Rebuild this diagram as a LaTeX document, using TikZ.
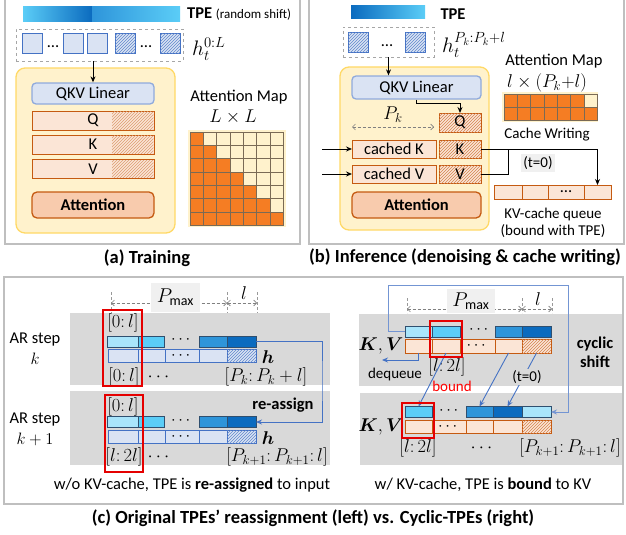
\documentclass[tikz,border=0pt]{standalone}
\usepackage{fix-cm}
\usepackage{fontspec}
\setmainfont{Carlito}
\usepackage{amsmath}
\usetikzlibrary{arrows.meta,positioning,patterns,calc}

\definecolor{frameGray}{HTML}{BFBFBF}
\definecolor{tokFill}{HTML}{DAE3F3}
\definecolor{tokBorder}{HTML}{4472C4}
\definecolor{qkvBorder}{HTML}{8FAADC}
\definecolor{kvFill}{HTML}{FBE5D6}
\definecolor{kvBorder}{HTML}{C55A11}
\definecolor{attnFill}{HTML}{F8CBAD}
\definecolor{blockFill}{HTML}{FFF2CC}
\definecolor{blockBorder}{HTML}{FFD966}
\definecolor{mapOrange}{HTML}{F57D23}
\definecolor{mapGrid}{HTML}{7A6A55}
\definecolor{bandGray}{HTML}{D9D9D9}
\definecolor{tpeA}{HTML}{A9E5FB}
\definecolor{tpeB}{HTML}{5BCDF7}
\definecolor{tpeC}{HTML}{2E95DA}
\definecolor{tpeD}{HTML}{0B6BBF}
\definecolor{tpeBorder}{HTML}{2F4F6F}

\begin{document}
\begin{tikzpicture}[
  x=1pt, y=-1pt,
  font=\fontsize{16.5}{19}\selectfont,
  >={Stealth[length=6pt,width=5pt]},
  panel/.style={draw=frameGray, line width=1.3pt},
  caption/.style={font=\fontsize{18.5}{21}\selectfont\bfseries},
  note/.style={font=\fontsize{15}{17}\selectfont},
  mathlabel/.style={font=\fontsize{18.5}{21}\selectfont, inner sep=1pt},
  biglabel/.style={font=\fontsize{21}{23}\selectfont, inner sep=0pt},
  dots/.style={inner sep=0pt},
  tok/.style={draw=tokBorder, fill=tokFill, line width=1pt, minimum width=20, minimum height=20, inner sep=0pt},
  tokhatch/.style={tok, postaction={pattern=north east lines, pattern color=tokBorder!85}},
  dashbox/.style={draw=gray!70, dashed, line width=0.8pt, inner sep=0pt},
  block/.style={draw=blockBorder, fill=blockFill, rounded corners=9pt, line width=1.3pt, inner sep=0pt},
  qkvbox/.style={draw=qkvBorder, fill=tokFill, rounded corners=4pt, line width=1.3pt, inner sep=0pt},
  kvcell/.style={draw=kvBorder, fill=kvFill, line width=1pt, inner sep=0pt, outer sep=0pt},
  kvhatch/.style={kvcell, postaction={pattern=north east lines, pattern color=kvBorder!75}},
  attnbox/.style={draw=kvBorder, fill=attnFill, rounded corners=5pt, line width=1.3pt, inner sep=0pt, font=\fontsize{16.5}{19}\selectfont\bfseries},
  mapcell/.style={draw=mapGrid, line width=0.5pt},
  dim/.style={draw=gray, densely dashed, line width=0.6pt, {Straight Barb[length=3pt]}-{Straight Barb[length=3pt]}},
  tick/.style={draw=gray!80, densely dashed, line width=0.5pt},
  band/.style={fill=bandGray, inner sep=0pt},
  labelbox/.style={fill=gray!12, inner sep=0pt, font=\fontsize{20}{22}\selectfont},
  tpecell/.style={draw=tpeBorder, line width=0.9pt, minimum height=11, inner sep=0pt, outer sep=0pt},
  hcell/.style={draw=tokBorder, fill=tokFill, line width=0.9pt, minimum height=13, inner sep=0pt, outer sep=0pt},
  redbox/.style={draw=red!90!black, line width=1.2pt, inner sep=0pt},
  link/.style={draw=tokBorder, line width=0.9pt},
]
\useasboundingbox (0,0) rectangle (626,535);

% ========== (a) Training ==========
\draw[panel] (5,-5) rectangle (300,244);
\node[caption] (cap_a) at (147,258) {(a) Training};

% TPE with random shift
\shade[left color=tpeB, right color=tpeD] (23,7) rectangle (92,22);
\shade[left color=tpeC, right color=tpeB] (92,7) rectangle (180,22);
\node[anchor=west, inner sep=0pt] (tpe_a) at (187,14) {\textbf{TPE} {\fontsize{13}{15}\selectfont (random shift)}};

% input tokens
\node[dashbox, minimum width=167, minimum height=32] (in_a) at (99.5,45) {};
\node[tok] (a1) at (32,44) {};
\node[dots] (adots1) at (53,47) {…};
\node[tok] (a2) at (73.5,44) {};
\node[tok] (a3) at (97.5,44) {};
\node[tokhatch] (a4) at (125,44) {};
\node[dots] (adots2) at (146,47) {…};
\node[tokhatch] (a5) at (170,44) {};
\node[biglabel, anchor=west] (h_a) at (192,49) {$h_t^{0:L}$};

% attention block
\node[block, minimum width=159, minimum height=165] (blk_a) at (95.5,150.5) {};
\node[qkvbox, minimum width=122, minimum height=21] (qkv_a) at (93,93.5) {QKV Linear};
\draw[->, line width=1pt] (in_a.south -| qkv_a.north) -- (qkv_a.north);
\foreach \nm/\tx/\y in {q_a/Q/120.5, k_a/K/144.5, v_a/V/169}
  {
  \node[kvcell, minimum width=122, minimum height=19] (\nm) at (93,\y) {\tx};
  \path[pattern=north east lines, pattern color=kvBorder!60] ([xshift=-42pt,yshift=-0.6pt]\nm.north east) rectangle ([xshift=-0.6pt,yshift=0.6pt]\nm.south east);
  }
\node[attnbox, minimum width=122, minimum height=26] (attn_a) at (93,205) {Attention};

% attention map L x L
\node (mapt_a) at (239,97) {Attention Map};
\node[mathlabel] (mapd_a) at (233,117) {$L\times L$};
\node[fill=blockFill, minimum width=98, minimum height=97, inner sep=0pt] (map_a) at (237,178.5) {};
\foreach \i in {0,...,6}
  \foreach \j in {0,...,6}
  {
  \ifnum\i>\j \def\cc{blockFill}\else\def\cc{mapOrange}\fi
  \path[mapcell, fill=\cc] ({190+13.3*\i},{132+13.3*\j}) rectangle ++(13.3,13.3);
  }

% ========== (b) Inference ==========
\draw[panel] (309,-5) rectangle (624,244);
\node[caption] (cap_b) at (465,257) {(b) Inference (denoising \& cache writing)};

% TPE
\shade[left color=tpeD, right color=tpeB] (351,6) rectangle (425,19);
\node[font=\fontsize{16.5}{19}\selectfont\bfseries] (tpe_b) at (453,14) {TPE};

% input tokens
\node[dashbox, minimum width=91, minimum height=30] (in_b) at (388.5,42) {};
\node[tokhatch] (b1) at (358,43) {};
\node[dots] (bdots) at (387,46) {…};
\node[tokhatch] (b2) at (415.5,43) {};
\node[biglabel, anchor=west] (h_b) at (442,45) {$h_t^{P_k:P_k+l}$};

% attention block with cache
\node[block, minimum width=149, minimum height=163] (blk_b) at (414.5,148.5) {};
\node[qkvbox, minimum width=129, minimum height=23] (qkv_b) at (416.5,87.5) {QKV Linear};
\draw[->, line width=1pt] (in_b.south) -- (in_b.south |- qkv_b.north);
\node[kvhatch, minimum width=42, minimum height=19] (q_b) at (460,122.5) {Q};
\draw[->, line width=1pt] (qkv_b.south) -- ++(0,4) -| (q_b.north);
\coordinate (pkl_b) at (352,127);
\coordinate (pkr_b) at (434,127);
\draw[dim] (pkl_b) -- (pkr_b);
\node[mathlabel] (pk_b) at (393,115) {$P_k$};
\node[kvcell, minimum width=84, minimum height=18] (ck_b) at (394,149) {cached K};
\node[kvhatch, minimum width=42, minimum height=18] (k_b) at (460,149) {K};
\node[kvcell, minimum width=84, minimum height=18] (cv_b) at (394,174) {cached V};
\node[kvhatch, minimum width=42, minimum height=18] (v_b) at (460,174) {V};
\node[attnbox, minimum width=129, minimum height=26] (attn_b) at (416.5,205) {Attention};
\coordinate (kin_b) at (322,149);
\coordinate (vin_b) at (322,174);
\draw[->, line width=1pt] (kin_b) -- (ck_b.west);
\draw[->, line width=1pt] (vin_b) -- (cv_b.west);

% attention map l x (Pk+l)
\node[inner sep=1pt] (mapt_b) at (554,61) {Attention Map};
\node[mathlabel, inner sep=0pt] (mapd_b) at (547,83) {$l\times(P_k{+}l)$};
\node[fill=blockFill, minimum width=96, minimum height=30, inner sep=0pt] (map_b) at (550,107) {};
\foreach \i in {0,...,6}
  \foreach \j in {0,1}
  {
  \ifnum\numexpr\i+\j=6 \def\cc{blockFill}\else\def\cc{mapOrange}\fi
  \ifnum\j=1 \def\cc{mapOrange}\fi
  \path[mapcell, fill=\cc] ({504+13.3*\i},{94+13*\j}) rectangle ++(13.3,13);
  }
\node[note] (cw_b) at (547,135) {Cache Writing};

% KV-cache queue
\foreach \xa/\xb/\nm/\tx in {494/522/qc1_b/{}, 522/548/qc2_b/{}, 548/584/qc3_b/{…}, 584/611/qc4_b/{}}
  \node[kvcell, minimum width={\xb-\xa}, minimum height=14] (\nm) at ({(\xa+\xb)/2},192) {\tx};
\coordinate (kvjoin_b) at (508,149);
\draw[line width=1pt] (v_b.east) -| (kvjoin_b);
\draw[->, line width=1pt] (k_b.east) -| (qc4_b.north);
\node[note, fill=gray!12, inner sep=2pt] (t0_b) at (538,163) {(t=0)};
\node[note, align=center] (queue_b) at (553,223) {KV-cache queue\\(bound with TPE)};

% ========== (c) TPE reassignment vs. Cyclic-TPEs ==========
\draw[panel] (4,277) rectangle (623,504);
\node[caption] (cap_c) at (313,518) {(c) Original TPEs’ reassignment (left) vs. Cyclic-TPEs (right)};

% ---- left: w/o KV-cache ----
\node[band, minimum width=260, minimum height=72] (band_l1) at (200,349) {};
\node[band, minimum width=260, minimum height=74] (band_l2) at (200,428) {};
\foreach \x in {111,227,257} \draw[tick] (\x,292) -- (\x,313);
\coordinate (pml_l) at (111,303);
\coordinate (pmr_l) at (227,303);
\coordinate (lr_l) at (257,303);
\draw[dim] (pml_l) -- (pmr_l);
\draw[dim] (pmr_l) -- (lr_l);
\node[labelbox, minimum width=49, minimum height=29] (pmax_l) at (175.5,297.5) {$P_{\max}$};
\node[mathlabel] (l_l) at (244,293) {$l$};

\node[align=center] (ark_l) at (35,349) {AR step\\[2pt]$k$};
\node[align=center] (ark1_l) at (35,429) {AR step\\[2pt]$k+1$};

% AR step k
\foreach \xa/\xb/\cc/\nm in {107/138/tpeA/l1t1, 138/164/tpeB/l1t2, 199/227/tpeC/l1t3, 227/256/tpeD/l1t4}
  \node[tpecell, fill=\cc, minimum width={\xb-\xa}] (\nm) at ({(\xa+\xb)/2},341.5) {};
\node[dots] (l1dots) at (182,340) {$\cdots$};
\foreach \xa/\xb/\nm/\tx in {108/138/l1h1/{}, 138/165/l1h2/{}, 165/199/l1h3/{$\cdots$}, 199/227/l1h4/{}}
  \node[hcell, minimum width={\xb-\xa}] (\nm) at ({(\xa+\xb)/2},355.5) {\tx};
\node[hcell, minimum width=29, postaction={pattern=north east lines, pattern color=tokBorder!85}] (l1h5) at (241.5,355.5) {};
\node[mathlabel] (l1h) at (268,357) {$\boldsymbol{h}$};
\node[mathlabel] (l1top) at (123,323) {$[0{:}\,l]$};
\node[mathlabel] (l1bot) at (124,377) {$[0{:}\,l]$};
\node[mathlabel] (l1bdots) at (160,377) {$\cdots$};
\node[mathlabel] (l1range) at (266,377) {$[P_k{:}\,P_k+l]$};

% AR step k+1
\foreach \xa/\xb/\cc/\nm in {107/138/tpeA/l2t1, 138/164/tpeB/l2t2, 199/227/tpeC/l2t3, 227/256/tpeD/l2t4}
  \node[tpecell, fill=\cc, minimum width={\xb-\xa}] (\nm) at ({(\xa+\xb)/2},422) {};
\node[dots] (l2dots) at (182,420.5) {$\cdots$};
\foreach \xa/\xb/\nm/\tx in {108/138/l2h1/{}, 138/165/l2h2/{}, 165/199/l2h3/{$\cdots$}, 199/227/l2h4/{}}
  \node[hcell, minimum width={\xb-\xa}] (\nm) at ({(\xa+\xb)/2},437) {\tx};
\node[hcell, minimum width=29, postaction={pattern=north east lines, pattern color=tokBorder!85}] (l2h5) at (241.5,437) {};
\node[mathlabel] (l2h) at (268,438) {$\boldsymbol{h}$};
\node[mathlabel] (l2top) at (123,407) {$[0{:}\,l]$};
\node[font=\fontsize{16.5}{19}\selectfont\bfseries] (reassign_l) at (283,405) {re-assign};
\node[mathlabel] (l2bot) at (124,457) {$[l{:}\,2l]$};
\node[mathlabel] (l2bdots) at (160,457) {$\cdots$};
\node[mathlabel] (l2range) at (277,457) {$[P_{k+1}{:}\,P_{k+1}{:}\,l]$};

\node[redbox, minimum width=39, minimum height=76] (red_l1) at (122.5,348) {};
\node[redbox, minimum width=38, minimum height=77] (red_l2) at (124,433.5) {};
\coordinate (ra_l) at (322,380);
\draw[link, ->] (l1t4.east) -| (ra_l) |- (l2t4.east);
\node (capl_c) at (192,485) {w/o KV-cache, TPE is \textbf{re-assigned} to input};

% ---- right: w/ KV-cache, cyclic ----
\node[band, minimum width=263, minimum height=72] (band_r1) at (490.5,350) {};
\node[band, minimum width=262, minimum height=72] (band_r2) at (491,429) {};
\foreach \x in {407,522,552} \draw[tick] (\x,298) -- (\x,313);
\coordinate (pml_r) at (407,309);
\coordinate (pmr_r) at (522,309);
\coordinate (lr_r) at (552,309);
\draw[dim] (pml_r) -- (pmr_r);
\draw[dim] (pmr_r) -- (lr_r);
\node[labelbox, minimum width=48, minimum height=24] (pmax_r) at (471,301) {$P_{\max}$};
\node[mathlabel] (l_r) at (538,299) {$l$};

% step k
\foreach \xa/\xb/\cc/\nm in {405/432/tpeA/r1t1, 432/460/tpeB/r1t2, 495/522/tpeC/r1t3, 522/551/tpeD/r1t4}
  \node[tpecell, fill=\cc, minimum width={\xb-\xa}] (\nm) at ({(\xa+\xb)/2},331.5) {};
\node[dots] (r1dots) at (480,330) {$\cdots$};
\foreach \xa/\xb/\nm/\tx in {405/432/r1k1/{}, 432/460/r1k2/{}, 460/495/r1k3/{$\cdots$}, 495/522/r1k4/{}}
  \node[kvcell, minimum width={\xb-\xa}, minimum height=14] (\nm) at ({(\xa+\xb)/2},346) {\tx};
\node[kvhatch, minimum width=29, minimum height=14] (r1k5) at (536.5,346) {};
\node[mathlabel] (kv_r1) at (381,346) {$\boldsymbol{K},\boldsymbol{V}$};
\node[mathlabel] (r1rng) at (447,367) {$[l{:}\,2l]$};
\coordinate (deq_r) at (382,360);
\draw[link, ->] (r1k1.south) |- (deq_r);
\node[note] (deqt_r) at (395,374) {dequeue};
\node[note, text=red] (bound_r) at (452,386) {bound};
\node[font=\fontsize{16.5}{19}\selectfont\bfseries, align=center] (cyc_r) at (595,352) {cyclic\\shift};

% step k+1
\foreach \xa/\xb/\cc/\nm in {405/432/tpeB/r2t1, 466/493/tpeC/r2t3, 493/522/tpeD/r2t4, 522/551/tpeA/r2t5}
  \node[tpecell, fill=\cc, minimum width={\xb-\xa}] (\nm) at ({(\xa+\xb)/2},412) {};
\node[dots] (r2dots) at (450,410.5) {$\cdots$};
\foreach \xa/\xb/\nm/\tx in {405/432/r2k1/{}, 432/466/r2k2/{$\cdots$}, 466/493/r2k3/{}, 493/522/r2k4/{}}
  \node[kvcell, minimum width={\xb-\xa}, minimum height=13] (\nm) at ({(\xa+\xb)/2},426.5) {\tx};
\node[kvhatch, minimum width=29, minimum height=13] (r2k5) at (536.5,426.5) {};
\node[mathlabel] (kv_r2) at (381,427) {$\boldsymbol{K},\boldsymbol{V}$};
\node[mathlabel] (r2rng) at (418,448) {$[l{:}\,2l]$};
\node[mathlabel] (r2dots2) at (483,448) {$\cdots$};
\node[mathlabel] (r2range) at (570,448) {$[P_{k+1}{:}\,P_{k+1}{:}\,l]$};

% shifts
\draw[link, ->] (r1k2.south) -- (r2t1.north);
\draw[link, ->] (r1k4.south) -- (r2t3.north);
\draw[link, ->] (r1k5.south) -- (r2t4.north);
\node[note, fill=bandGray, inner sep=1pt] (t0_r) at (527,377) {(t=0)};
\coordinate (loopa_r) at (388,285);
\coordinate (loopb_r) at (568,285);
\draw[link, draw=tokBorder!75, ->] (r1t1.west) -| (loopa_r) -- (loopb_r) |- (r2t5.east);

\node[redbox, minimum width=32, minimum height=36] (red_r1) at (446,339) {};
\node[redbox, minimum width=32, minimum height=35] (red_r2) at (418,420.5) {};
\node (capr_c) at (483,485) {w/ KV-cache, TPE is \textbf{bound} to KV};

\end{tikzpicture}
\end{document}
